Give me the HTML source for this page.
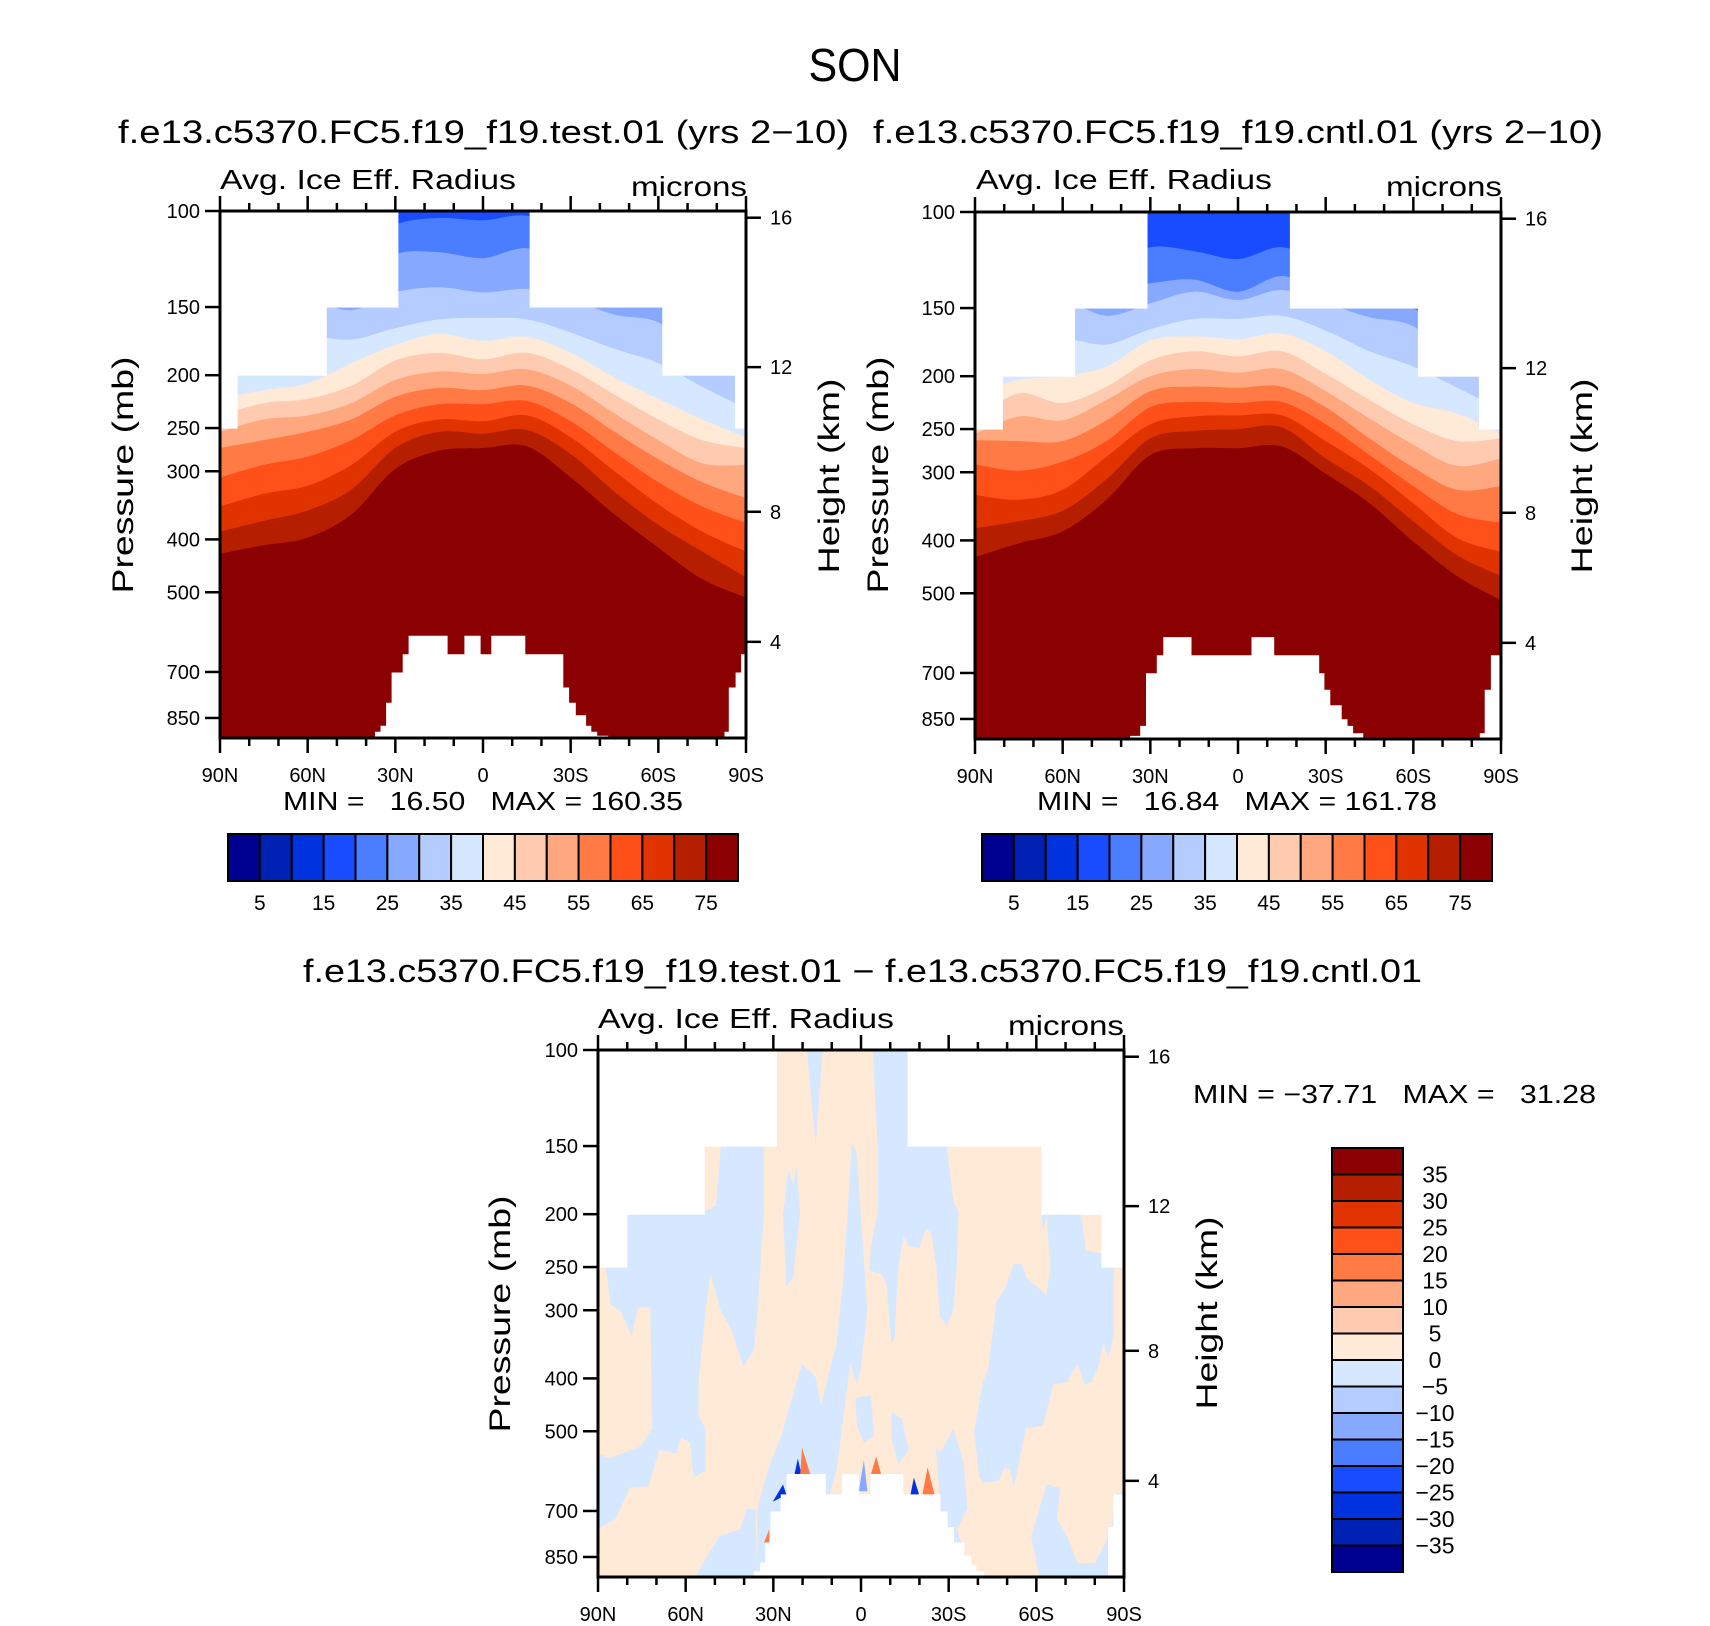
<!DOCTYPE html>
<html><head><meta charset="utf-8"><style>
html,body{margin:0;padding:0;background:#fff;}
svg{display:block;font-family:"Liberation Sans",sans-serif;}
</style></head>
<body>
<svg id="fig" width="1710" height="1626" viewBox="0 0 1710 1626" xmlns="http://www.w3.org/2000/svg">
<rect x="0" y="0" width="1710" height="1626" fill="#fff"/>
<text x="855" y="81" font-size="46" text-anchor="middle" textLength="93" lengthAdjust="spacingAndGlyphs">SON</text>
<text x="118" y="143" font-size="32" textLength="731" lengthAdjust="spacingAndGlyphs">f.e13.c5370.FC5.f19_f19.test.01 (yrs 2−10)</text>
<text x="873" y="143" font-size="32" textLength="730" lengthAdjust="spacingAndGlyphs">f.e13.c5370.FC5.f19_f19.cntl.01 (yrs 2−10)</text>
<text x="303" y="982" font-size="32" textLength="1119" lengthAdjust="spacingAndGlyphs">f.e13.c5370.FC5.f19_f19.test.01 − f.e13.c5370.FC5.f19_f19.cntl.01</text>

<text x="220" y="189" font-size="28" textLength="296" lengthAdjust="spacingAndGlyphs">Avg. Ice Eff. Radius</text>
<text x="631" y="196" font-size="28" textLength="116" lengthAdjust="spacingAndGlyphs">microns</text>
<text x="976" y="189" font-size="28" textLength="296" lengthAdjust="spacingAndGlyphs">Avg. Ice Eff. Radius</text>
<text x="1386" y="196" font-size="28" textLength="116" lengthAdjust="spacingAndGlyphs">microns</text>
<text x="598" y="1028" font-size="28" textLength="296" lengthAdjust="spacingAndGlyphs">Avg. Ice Eff. Radius</text>
<text x="1008" y="1035" font-size="28" textLength="116" lengthAdjust="spacingAndGlyphs">microns</text>

<text transform="translate(133,475) rotate(-90)" font-size="30" text-anchor="middle" textLength="237" lengthAdjust="spacingAndGlyphs">Pressure (mb)</text>
<text transform="translate(839,476) rotate(-90)" font-size="30" text-anchor="middle" textLength="195" lengthAdjust="spacingAndGlyphs">Height (km)</text>
<text transform="translate(888,475) rotate(-90)" font-size="30" text-anchor="middle" textLength="237" lengthAdjust="spacingAndGlyphs">Pressure (mb)</text>
<text transform="translate(1592,476) rotate(-90)" font-size="30" text-anchor="middle" textLength="195" lengthAdjust="spacingAndGlyphs">Height (km)</text>
<text transform="translate(510,1314) rotate(-90)" font-size="30" text-anchor="middle" textLength="237" lengthAdjust="spacingAndGlyphs">Pressure (mb)</text>
<text transform="translate(1217,1313) rotate(-90)" font-size="30" text-anchor="middle" textLength="193" lengthAdjust="spacingAndGlyphs">Height (km)</text>

<text x="283" y="810" font-size="26" textLength="400" lengthAdjust="spacingAndGlyphs" xml:space="preserve">MIN =   16.50   MAX = 160.35</text>
<text x="1037" y="810" font-size="26" textLength="400" lengthAdjust="spacingAndGlyphs" xml:space="preserve">MIN =   16.84   MAX = 161.78</text>
<text x="1193" y="1103" font-size="26" textLength="403" lengthAdjust="spacingAndGlyphs" xml:space="preserve">MIN = −37.71   MAX =   31.28</text>
<g id="layer"></g>
</svg>
<script>
// ---- data ----
const lats = [90,75,60,45,30,15,0,-15,-30,-45,-60,-75,-90];
const levelValues = [20,25,30,35,40,45,50,55,60,65,70,75];
// test run: pressure (mb) of each contour level along lats
const t20 = [110,110,110,120,106,103,104,102,110,130,135,160,170];
const t25 = [125,125,125,135,120,119,122,117,126,140,145,170,180];
const t30 = [145,145,145,152,141,138,141,139,145,155,160,185,200];
const t35 = [190,175,170,172,164,158,157,158,167,179,190,210,230];
const t40 = [221,213,207,190,176,168,173,170,182,202,221,241,260];
const t45 = [237,225,221,209,188,182,187,182,195,217,241,263,272];
const t50 = [254,241,237,225,204,197,199,195,209,235,263,290,292];
const t55 = [272,263,254,241,219,211,213,209,225,254,285,314,336];
const t60 = [308,292,282,263,237,226,226,223,243,277,314,348,373];
const t65 = [348,330,319,292,254,241,243,237,260,300,345,387,421];
const t70 = [387,370,354,324,272,254,256,252,279,327,376,421,469];
const t75 = [425,410,397,360,297,275,272,270,308,360,414,473,511];
// control run
const c20 = [115,115,115,125,116,118,122,116,125,130,135,160,170];
const c25 = [130,130,128,138,135,133,140,131,140,140,150,172,185];
const c30 = [150,150,145,155,147,140,145,139,147,156,162,190,205];
const c35 = [200,190,172,175,164,157,157,155,165,180,192,210,230];
const c40 = [215,203,200,192,172,169,171,167,180,203,224,234,255];
const c45 = [240,215,224,209,187,180,184,180,198,221,245,263,260];
const c50 = [255,237,241,221,200,194,197,194,213,239,267,292,283];
const c55 = [262,263,263,241,213,209,210,209,228,260,294,323,318];
const c60 = [290,298,287,263,228,223,224,223,245,279,318,358,371];
const c65 = [330,337,323,281,245,237,236,236,263,296,342,396,420];
const c70 = [380,369,353,309,260,252,250,248,283,318,369,426,465];
const c75 = [429,405,385,337,279,271,271,269,302,342,402,465,515];
// missing-data tops (latitude edges, pressure above which data missing)
const mask1Lats = [90,84.3,53.8,29.3,-16.3,-61.7,-86.6,-90];
const mask2Lats = [90,80.8,56.1,31.3,-18.1,-61.9,-82.8,-90];
const mask3Lats = [90,80.3,53.8,29.1,-16.3,-62,-82.6,-90];
const maskTopP = [250,200,150,100,150,200,250];
// topography (lat, surface pressure outline)
const topo1 = [[36.8,925],[36.8,903],[34.9,903],[34.9,880],[33,880],[33,799],[31.1,799],[31.1,703],[27.3,703],[27.3,651],[25.3,651],[25.3,602],[12.3,602],[12.3,651],[6.2,651],[6.2,602],[1,602],[1,651],[-3,651],[-3,602],[-14.3,602],[-14.3,651],[-27.3,651],[-27.3,749],[-29.3,749],[-29.3,799],[-31.6,799],[-31.6,842],[-35.1,842],[-35.1,880],[-36.9,880],[-36.9,903],[-38.9,903],[-38.9,918],[-42.7,918],[-42.7,925]];
const edge1 = [[-90,651],[-88.5,651],[-88.5,703],[-86.6,703],[-86.6,749],[-84.3,749],[-84.3,903],[-82.8,903],[-82.8,925],[-90,925]];
const topo2 = [[36.8,925],[36.8,915],[33.3,915],[33.3,877],[31.3,877],[31.3,702],[27.6,702],[27.6,651],[25.4,651],[25.4,603],[16.1,603],[16.1,651],[-4.8,651],[-4.8,603],[-12.2,603],[-12.2,651],[-27.6,651],[-27.6,702],[-29.4,702],[-29.4,753],[-31.4,753],[-31.4,804],[-35.3,804],[-35.3,853],[-37.3,853],[-37.3,877],[-39.2,877],[-39.2,905],[-42.7,905],[-42.7,925]];
const edge2 = [[-90,651],[-86.7,651],[-86.7,753],[-84.6,753],[-84.6,905],[-82.9,905],[-82.9,925],[-90,925]];
const topo3 = [[36.5,925],[36.5,905],[34.4,905],[34.4,872],[32.6,872],[32.6,801],[30.8,801],[30.8,703],[27.3,703],[27.3,654],[25.3,654],[25.3,600],[12.2,600],[12.2,654],[6.3,654],[6.3,600],[0.8,600],[0.8,654],[-3.4,654],[-3.4,600],[-14.3,600],[-14.3,654],[-27,654],[-27,703],[-29.5,703],[-29.5,751],[-31.7,751],[-31.7,801],[-35.2,801],[-35.2,847],[-37.6,847],[-37.6,880],[-39.3,880],[-39.3,905],[-42,905],[-42,925]];
const edge3 = [[-90,654],[-86.5,654],[-86.5,751],[-84.7,751],[-84.7,925],[-90,925]];
// difference field: regions of 0..5 (cream) on a -5..0 background
const creamA = [[90,250],[87.4,250],[85.6,293],[82.1,302],[78.6,335],[76.2,296],[72.1,296],[71.5,495],[75.6,533],[86.2,561],[90,549]];
const creamB = [[90,925],[35.5,925],[35.5,694],[32,590],[27.3,510],[20.2,376],[15.5,398],[13.7,448],[8.4,345],[6.1,265],[3.1,148],[1.4,100],[29.1,100],[29.1,150],[33.2,150],[33.2,198],[35.5,307],[36.7,355],[40.3,381],[44.4,325],[47.9,302],[51.5,257],[53.2,302],[55.6,405],[55.6,467],[53.2,495],[53.2,590],[57.3,608],[58.5,525],[61.5,513],[63.2,549],[69.1,541],[72.7,630],[79.2,635],[83.9,723],[90,756]];
const creamC = [[1.4,100],[-4,100],[-5.7,150],[-5.7,198],[-3.4,229],[-2.8,254],[-6.9,257],[-8.7,269],[-10.4,345],[-12.8,325],[-16.3,376],[-18.1,423],[-19.9,393],[-22.2,398],[-24,474],[-25.8,549],[-26.9,654],[10.8,654],[8.4,590],[6.1,474],[3.7,376],[1.4,410],[0.2,387],[-2.2,302],[1.4,155],[3.1,148]];
const creamD = [[-29.3,150],[-61.7,150],[-61.7,200],[-62.3,216],[-63.5,201],[-64.7,250],[-63.5,281],[-56.4,261],[-55.2,247],[-52.3,247],[-49.3,273],[-46.4,289],[-43.4,387],[-41.7,405],[-38.7,502],[-40.5,608],[-42.3,621],[-47,617],[-49.3,582],[-51.1,590],[-52.3,635],[-54,574],[-56.4,495],[-62.3,488],[-65.8,410],[-70.5,407],[-74.1,376],[-76.4,410],[-78.8,407],[-81.2,381],[-82.9,345],[-84.7,366],[-86.5,335],[-86.5,250],[-90,250],[-90,644],[-86.5,654],[-85.9,756],[-80,872],[-74.1,872],[-70.5,778],[-67,723],[-68.2,635],[-63.5,626],[-58.2,778],[-61.1,925],[-38.7,925],[-35.8,847],[-32.8,756],[-36.4,694],[-35.2,574],[-31.7,495],[-26.9,549],[-12.8,410],[-11.6,325],[-12.8,250],[-14.6,219],[-16.3,229],[-19.9,231],[-22.2,213],[-24,216],[-25.8,250],[-26.9,307],[-29.3,320],[-31.7,298],[-32.8,247],[-33.4,198],[-31.7,190]];
const creamE = [[53.8,150],[47.9,150],[49.7,193],[53.8,198]];
const creamF = [[-75.3,200],[-82.3,200],[-82.3,236],[-77,233]];
const blueH1 = [[26.7,201],[24.9,166],[23.2,176],[22,164],[20.8,198],[23.2,261],[25.5,271]];
const blueH2 = [[18.5,100],[15.5,150],[13.1,100]];
const blueH3 = [[56.8,925],[48.5,778],[41.4,756],[39.1,694],[36.1,694],[35.5,925]];
const blueH4 = [[65,416],[63.2,416],[63.2,474],[65,474]];
const blueH5 = [[1.9,435],[-3.4,429],[-4.5,510],[-1,525],[1.4,488]];
const blueH6 = [[-10.4,461],[-14,474],[-16.3,541],[-12.8,574],[-10.4,517]];
const speckDarkBlue = [[[22.8,600],[21.6,561],[20.4,600]],[[-16.9,654],[-18.1,608],[-19.9,654]],[[30.2,673],[26.7,626],[25.5,654]]];
const speckRed = [[[20.8,600],[20.2,536],[17.3,600]],[[-21,654],[-22.8,582],[-25.2,654]],[[33.2,801],[31.4,756],[31.4,801]],[[-3.4,600],[-5.2,556],[-6.9,600]]];
const speckMidBlue = [[[0.8,644],[-1,565],[-2.2,644]]];
// axes
const pressureTicks = [100,150,200,250,300,400,500,700,850];
const heightTicks = [16,12,8,4];
const latTickLabels = ['90N','60N','30N','0','30S','60S','90S'];
const latTickValues = [90,60,30,0,-30,-60,-90];
const cbLabels = [5,15,25,35,45,55,65,75];
const diffLabels = [35,30,25,20,15,10,5,0,-5,-10,-15,-20,-25,-30,-35];
const palette = ['#000090','#0022b4','#0032e0','#1a4cff','#4a7dff','#86a8ff','#b4ccff','#d6e8ff','#ffead8','#ffcbb0','#ffa880','#ff7a45','#ff5019','#e03300','#b61e00','#8b0000'];

// ---- geometry ----
const NS = 'http://www.w3.org/2000/svg';
const PW = 526, PH = 527, PBOT = 925;
const layer = document.getElementById('layer');
function mk(tag, attrs, parent) {
  const el = document.createElementNS(NS, tag);
  for (const k in attrs) el.setAttribute(k, attrs[k]);
  (parent || layer).appendChild(el);
  return el;
}
function xOf(P, lat) { return P.left + (90 - lat) / 180 * PW; }
function yOf(P, p) { return P.top + Math.log(p / 100) / Math.log(PBOT / 100) * PH; }
function hToP(h) {
  const m = h * 1000;
  if (m <= 11000) return 1013.25 * Math.pow(1 - 2.2558e-5 * m, 5.2559);
  return 226.32 * Math.exp(-(m - 11000) / 6341.6);
}
function polyD(P, pts) {
  return pts.map((q, i) => (i ? 'L' : 'M') + xOf(P, q[0]).toFixed(1) + ',' + yOf(P, q[1]).toFixed(1)).join('') + 'Z';
}
function smoothD(P, ps) {
  const pts = lats.map((la, i) => [xOf(P, la), yOf(P, ps[i])]);
  let d = 'M' + pts[0][0] + ',' + pts[0][1];
  for (let i = 0; i < pts.length - 1; i++) {
    const p0 = pts[i - 1] || pts[i], p1 = pts[i], p2 = pts[i + 1], p3 = pts[i + 2] || p2;
    const c1 = [p1[0] + (p2[0] - p0[0]) / 6, p1[1] + (p2[1] - p0[1]) / 6];
    const c2 = [p2[0] - (p3[0] - p1[0]) / 6, p2[1] - (p3[1] - p1[1]) / 6];
    d += 'C' + c1[0].toFixed(1) + ',' + c1[1].toFixed(1) + ' ' + c2[0].toFixed(1) + ',' + c2[1].toFixed(1) + ' ' + p2[0].toFixed(1) + ',' + p2[1].toFixed(1);
  }
  d += 'L' + (P.left + PW) + ',' + (P.top + PH) + 'L' + P.left + ',' + (P.top + PH) + 'Z';
  return d;
}

const defs = mk('defs', {});
function makeClip(P, id) {
  const cp = mk('clipPath', {id: id}, defs);
  mk('rect', {x: P.left, y: P.top, width: PW, height: PH}, cp);
}

function drawMasks(P, g, maskLats, topo, edge, name) {
  for (let i = 0; i < maskTopP.length; i++) {
    if (maskTopP[i] <= 100) continue;
    const x1 = xOf(P, maskLats[i]), x2 = xOf(P, maskLats[i + 1]);
    const r = mk('rect', {x: x1 - 0.5, y: P.top - 2, width: x2 - x1 + 1, height: yOf(P, maskTopP[i]) - P.top + 2, fill: '#fff', stroke: '#fff', 'stroke-width': 1}, g);
    
    
  }
  const t = mk('path', {d: polyD(P, topo), fill: '#fff', stroke: '#fff', 'stroke-width': 1}, g);
  
  
  const e = mk('path', {d: polyD(P, edge), fill: '#fff', stroke: '#fff', 'stroke-width': 1}, g);
  
  
}

function drawAxes(P, name) {
  const g = mk('g', {stroke: '#000', 'stroke-width': 2.5, fill: 'none'});
  
  
  for (let la = 90; la >= -90; la -= 10) {
    const x = xOf(P, la), major = (la % 30 === 0), len = major ? 15 : 8;
    mk('line', {x1: x, y1: P.top, x2: x, y2: P.top - len}, g);
    mk('line', {x1: x, y1: P.top + PH, x2: x, y2: P.top + PH + len}, g);
  }
  pressureTicks.forEach(p => {
    const y = yOf(P, p);
    mk('line', {x1: P.left, y1: y, x2: P.left - 15, y2: y}, g);
    const t = mk('text', {x: P.left - 20, y: y + 7, 'font-size': 20, 'text-anchor': 'end', fill: '#000', stroke: 'none'});
    t.textContent = p;
    
    
  });
  heightTicks.forEach(h => {
    const y = yOf(P, hToP(h));
    mk('line', {x1: P.left + PW, y1: y, x2: P.left + PW + 15, y2: y}, g);
    const t = mk('text', {x: P.left + PW + 24, y: y + 7, 'font-size': 20, fill: '#000', stroke: 'none'});
    t.textContent = h;
    
    
  });
  latTickValues.forEach((la, i) => {
    const t = mk('text', {x: xOf(P, la), y: P.top + PH + 44, 'font-size': 20, 'text-anchor': 'middle', fill: '#000', stroke: 'none'});
    t.textContent = latTickLabels[i];
    
    
  });
  const f = mk('rect', {x: P.left, y: P.top, width: PW, height: PH, 'stroke-width': 3}, g);
  
  
}

function drawContourPlot(P, series, maskLats, topo, edge, name, clipId) {
  makeClip(P, clipId);
  const g = mk('g', {'clip-path': 'url(#' + clipId + ')'});
  
  
  const bg = mk('rect', {x: P.left, y: P.top, width: PW, height: PH, fill: palette[3]}, g);
  
  
  series.forEach((ps, i) => {
    const v = levelValues[i];
    const path = mk('path', {d: smoothD(P, ps), fill: palette[v / 5]}, g);
    
    
  });
  drawMasks(P, g, maskLats, topo, edge, name);
  drawAxes(P, name);
}

function drawColorbarH(x0, y0, name) {
  const w = 510 / 16, g = mk('g', {});
  
  
  palette.forEach((c, i) => {
    const r = mk('rect', {x: x0 + i * w, y: y0, width: w, height: 47, fill: c, stroke: '#000', 'stroke-width': 2}, g);
    
    
  });
  cbLabels.forEach((v, i) => {
    const t = mk('text', {x: x0 + (2 * i + 1) * w, y: y0 + 76, 'font-size': 21, 'text-anchor': 'middle'}, g);
    t.textContent = v;
    
    
  });
}

const P1 = {left: 220, top: 211}, P2 = {left: 975, top: 212}, P3 = {left: 598, top: 1050};
drawContourPlot(P1, [t20,t25,t30,t35,t40,t45,t50,t55,t60,t65,t70,t75], mask1Lats, topo1, edge1, 'test-plot', 'clip1');
drawContourPlot(P2, [c20,c25,c30,c35,c40,c45,c50,c55,c60,c65,c70,c75], mask2Lats, topo2, edge2, 'control-plot', 'clip2');
drawColorbarH(228, 834, 'test-colorbar');
drawColorbarH(982, 834, 'control-colorbar');

// difference plot
makeClip(P3, 'clip3');
const g3 = mk('g', {'clip-path': 'url(#clip3)'});


const bg3 = mk('rect', {x: P3.left, y: P3.top, width: PW, height: PH, fill: palette[7]}, g3);


[creamA, creamB, creamC, creamD, creamE, creamF].forEach(poly => {
  const p = mk('path', {d: polyD(P3, poly), fill: palette[8]}, g3);
  
  
});
[blueH1, blueH2, blueH3, blueH4, blueH5, blueH6].forEach(poly => {
  const p = mk('path', {d: polyD(P3, poly), fill: palette[7]}, g3);
  
  
});
speckDarkBlue.forEach(poly => {
  const p = mk('path', {d: polyD(P3, poly), fill: palette[2]}, g3);
  
  
});
speckMidBlue.forEach(poly => {
  const p = mk('path', {d: polyD(P3, poly), fill: palette[5]}, g3);
  
  
});
speckRed.forEach(poly => {
  const p = mk('path', {d: polyD(P3, poly), fill: palette[11]}, g3);
  
  
});
drawMasks(P3, g3, mask3Lats, topo3, edge3, 'difference-plot');
drawAxes(P3, 'difference-plot');

// vertical colorbar
const gv = mk('g', {});


const vh = 424 / 16;
palette.slice().reverse().forEach((c, i) => {
  const r = mk('rect', {x: 1332, y: 1148 + i * vh, width: 71, height: vh, fill: c, stroke: '#000', 'stroke-width': 2}, gv);
  
  
});
diffLabels.forEach((v, i) => {
  const t = mk('text', {x: 1435, y: 1148 + (i + 1) * vh + 8, 'font-size': 23, 'text-anchor': 'middle'}, gv);
  t.textContent = v < 0 ? '−' + (-v) : String(v);
  
  
});
</script>
</body></html>
